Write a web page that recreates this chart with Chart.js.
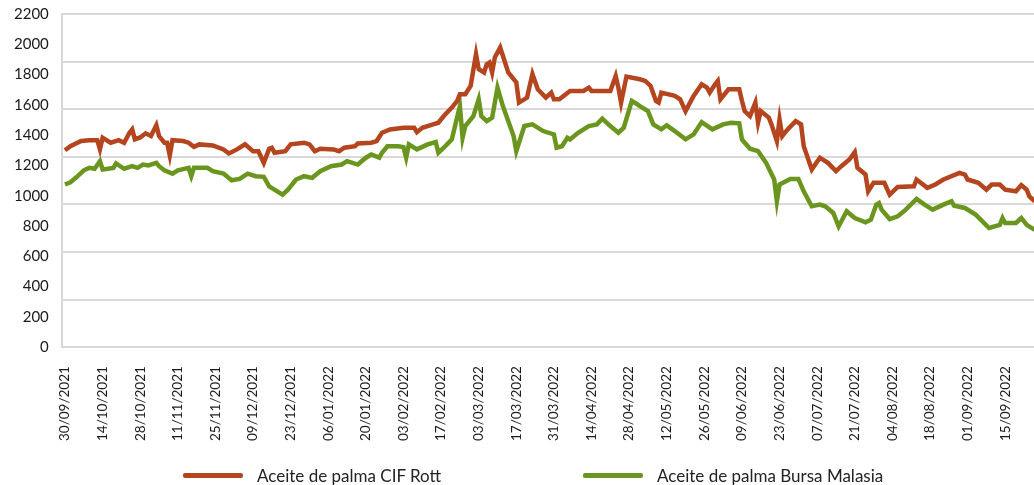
<!DOCTYPE html>
<html>
<head>
<meta charset="utf-8">
<title>Aceite de palma</title>
<script src="https://cdn.jsdelivr.net/npm/chart.js@4.4.1/dist/chart.umd.min.js"></script>
<style>
  html, body { margin: 0; padding: 0; background: #fff; overflow: hidden; }
  #wrap { position: relative; width: 1063px; height: 485px; }
  #legend { position: absolute; left: 0; top: 464px; width: 1034px; height: 22px;
            font-family: Lato, "Open Sans", sans-serif; font-size: 17px; color: #222; }
  .item { position: absolute; top: 0; height: 22px; display: flex; align-items: center; white-space: nowrap; }
  .swatch { width: 60px; height: 5px; border-radius: 2px; margin-right: 14px; }
</style>
</head>
<body>
<div id="wrap">
  <canvas id="palmChart"></canvas>
  <div id="legend"></div>
</div>
<script>
// series names + colours
const seriesNames = ['Aceite de palma CIF Rott', 'Aceite de palma Bursa Malasia'];
const seriesColors = ['#B4451F', '#6A961F'];

// x ticks: days since 30/09/2021
const tickDays = [0, 14, 28, 42, 56, 70, 84, 98, 112, 126, 140, 154, 168, 182, 196,
                  210, 224, 238, 252, 266, 280, 294, 308, 322, 336, 350, 364];
const tickLabels = ['30/09/2021', '14/10/2021', '28/10/2021', '11/11/2021', '25/11/2021',
                    '09/12/2021', '23/12/2021', '06/01/2022', '20/01/2022', '03/02/2022',
                    '17/02/2022', '03/03/2022', '17/03/2022', '31/03/2022', '14/04/2022',
                    '28/04/2022', '12/05/2022', '26/05/2022', '09/06/2022', '23/06/2022',
                    '07/07/2022', '21/07/2022', '04/08/2022', '18/08/2022', '01/09/2022',
                    '15/09/2022', '29/09/2022'];
const yTicks = [0, 200, 400, 600, 800, 1000, 1200, 1400, 1600, 1800, 2000, 2200];

// CIF Rotterdam
const cifDays = [0, 2, 6, 9, 12, 13, 14, 17, 20, 22, 24, 25, 26, 28, 30, 32, 34, 35, 37, 38,
  39, 40, 44, 46, 48, 50, 55, 59, 61, 64, 67, 70, 72, 74, 76, 77, 78, 82, 84, 89,
  91, 93, 95, 100, 102, 104, 108, 109, 114, 116, 118, 121, 126, 130, 131, 133, 137, 139, 141, 144,
  146, 147, 149, 151, 153, 154, 156, 157, 158, 159, 160, 162, 163, 165, 168, 169, 172, 174, 176, 179,
  181, 182, 184, 188, 193, 195, 196, 203, 205, 206, 207, 209, 214, 216, 218, 220, 221, 222, 227, 229,
  231, 234, 237, 239, 240, 242, 243, 244, 247, 251, 252, 253, 255, 257, 258, 259, 262, 263, 265, 266,
  267, 269, 272, 274, 275, 278, 281, 284, 287, 289, 292, 294, 295, 298, 299, 301, 305, 307, 310, 316,
  317, 321, 324, 327, 333, 335, 336, 340, 343, 345, 348, 350, 354, 356, 358, 359, 361];
const cifValues = [1300, 1327, 1361, 1367, 1367, 1306, 1383, 1350, 1367, 1350, 1416, 1438, 1372, 1385, 1412, 1394, 1465, 1394, 1350, 1350,
  1266, 1367, 1361, 1350, 1323, 1339, 1332, 1306, 1279, 1306, 1339, 1294, 1294, 1217, 1310, 1317, 1284, 1294, 1339, 1350,
  1339, 1294, 1310, 1306, 1294, 1317, 1327, 1345, 1350, 1361, 1416, 1438, 1449, 1449, 1420, 1449, 1471, 1482, 1526, 1582,
  1626, 1670, 1670, 1725, 1935, 1836, 1814, 1869, 1880, 1814, 1913, 1979, 1924, 1814, 1748, 1615, 1648, 1803, 1703, 1648,
  1681, 1637, 1637, 1692, 1692, 1714, 1692, 1692, 1791, 1714, 1615, 1787, 1769, 1758, 1725, 1626, 1615, 1681, 1659, 1637,
  1559, 1659, 1736, 1714, 1681, 1736, 1758, 1637, 1703, 1703, 1627, 1559, 1526, 1615, 1482, 1559, 1516, 1471, 1361, 1504,
  1394, 1438, 1493, 1471, 1327, 1173, 1251, 1217, 1162, 1195, 1239, 1288, 1184, 1140, 1029, 1085, 1085, 1007, 1058, 1062,
  1107, 1052, 1074, 1107, 1151, 1140, 1107, 1085, 1040, 1074, 1074, 1040, 1029, 1070, 1040, 996, 963];

// Bursa Malasia
const bursaDays = [0, 2, 4, 7, 9, 11, 13, 14, 16, 18, 19, 22, 25, 27, 29, 31, 34, 35, 37, 40,
  42, 46, 47, 48, 53, 55, 59, 62, 65, 68, 71, 74, 76, 81, 83, 86, 89, 92, 95, 99,
  103, 105, 109, 112, 114, 117, 118, 120, 124, 126, 127, 128, 131, 135, 138, 139, 141, 144, 147, 148,
  149, 152, 154, 155, 157, 159, 161, 163, 165, 167, 168, 171, 174, 178, 182, 183, 185, 187, 188, 191,
  195, 198, 200, 203, 206, 208, 211, 213, 214, 217, 219, 222, 224, 227, 231, 234, 237, 241, 245, 248,
  251, 252, 255, 258, 261, 264, 265, 266, 270, 273, 275, 278, 281, 283, 286, 288, 290, 291, 294, 298,
  300, 302, 303, 304, 307, 310, 313, 317, 320, 323, 327, 330, 331, 335, 339, 344, 348, 349, 350, 354,
  356, 358, 361];
const bursaValues = [1074, 1089, 1118, 1168, 1184, 1178, 1228, 1173, 1178, 1184, 1213, 1178, 1195, 1184, 1206, 1200, 1217, 1195, 1168, 1146,
  1168, 1184, 1129, 1184, 1184, 1162, 1146, 1102, 1111, 1146, 1129, 1125, 1062, 1007, 1040, 1107, 1129, 1118, 1162, 1195,
  1206, 1228, 1206, 1251, 1272, 1251, 1284, 1327, 1327, 1321, 1251, 1339, 1306, 1339, 1354, 1284, 1317, 1372, 1592, 1383,
  1460, 1526, 1637, 1526, 1493, 1516, 1714, 1592, 1493, 1394, 1294, 1460, 1471, 1427, 1405, 1317, 1327, 1383, 1372, 1416,
  1460, 1471, 1509, 1460, 1416, 1449, 1626, 1604, 1592, 1559, 1471, 1438, 1465, 1427, 1372, 1405, 1486, 1438, 1471, 1482,
  1478, 1372, 1310, 1294, 1217, 1107, 963, 1074, 1111, 1111, 1029, 930, 941, 930, 886, 797, 864, 897, 853, 824,
  842, 941, 952, 908, 846, 864, 908, 979, 941, 908, 941, 963, 934, 919, 875, 787, 808, 853, 820, 820,
  853, 808, 775];

const toPoints = (days, vals) => days.map((d, i) => ({ x: d, y: vals[i] }));

const tickFont = { family: 'Lato, "Open Sans", sans-serif', size: 15 };
const dateFont = { family: 'Lato, "Open Sans", sans-serif', size: 13.5 };
const axisGrey = '#d9d9d9';

const ctx = document.getElementById('palmChart').getContext('2d');
const palmChart = new Chart(ctx, {
    type: 'line',
    data: {
        datasets: [{
            label: seriesNames[0],
            data: toPoints(cifDays, cifValues),
            borderColor: seriesColors[0],
            borderWidth: 4.5,
            pointRadius: 0,
            tension: 0
        }, {
            label: seriesNames[1],
            data: toPoints(bursaDays, bursaValues),
            borderColor: seriesColors[1],
            borderWidth: 4.5,
            pointRadius: 0,
            tension: 0
        }]
    },
    options: {
        responsive: true,
        maintainAspectRatio: false,
        animation: false,
        layout: { padding: { left: 9, top: 8, right: 0, bottom: 40 } },
        plugins: {
            legend: { display: false },
            tooltip: { enabled: false }
        },
        scales: {
            x: {
                type: 'linear',
                min: -1.2,
                max: 369,
                afterBuildTicks: s => { s.ticks = tickDays.map(v => ({ value: v })); },
                grid: { display: false, drawTicks: true, tickLength: 15 },
                border: { color: axisGrey, width: 2 },
                ticks: {
                    autoSkip: false,
                    minRotation: 90,
                    maxRotation: 90,
                    padding: 4,
                    color: '#1a1a1a',
                    font: dateFont,
                    callback: (v, i) => tickLabels[i]
                }
            },
            y: {
                min: 0,
                max: 2200,
                afterBuildTicks: s => { s.ticks = yTicks.map(v => ({ value: v })); },
                grid: { display: false, drawTicks: true, tickLength: 8 },
                border: { color: axisGrey, width: 2 },
                ticks: { padding: 5, color: '#1a1a1a', font: tickFont, callback: v => String(v) }
            },
            // gridlines of the original do not sit on the labels: 7 equal bands
            yGrid: {
                position: 'left',
                min: 0,
                max: 2200,
                afterBuildTicks: s => { s.ticks = [0, 1, 2, 3, 4, 5, 6, 7].map(k => ({ value: k * 2200 / 7 })); },
                ticks: { display: false },
                grid: { color: axisGrey, lineWidth: 2, drawTicks: false },
                border: { display: false }
            }
        }
    }
});

// legend as html, built from the datasets
const legendLeft = [183, 583];
const legendEl = document.getElementById('legend');
palmChart.data.datasets.forEach((ds, i) => {
    const item = document.createElement('div');
    item.className = 'item';
    item.style.left = legendLeft[i] + 'px';
    const sw = document.createElement('span');
    sw.className = 'swatch';
    sw.style.background = ds.borderColor;
    const txt = document.createElement('span');
    txt.textContent = ds.label;
    item.appendChild(sw);
    item.appendChild(txt);
    legendEl.appendChild(item);
});
</script>
</body>
</html>
